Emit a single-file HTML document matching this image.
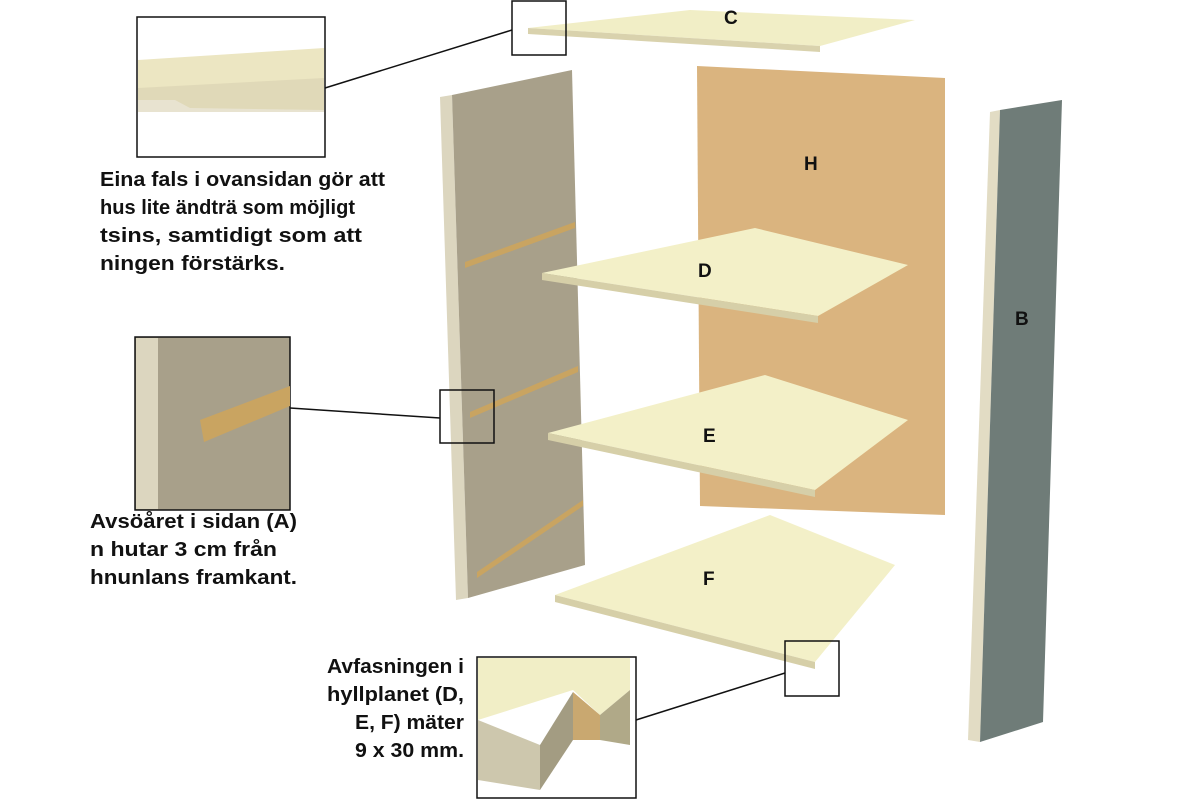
<!DOCTYPE html>
<html><head><meta charset="utf-8"><style>
body{margin:0;background:#fff;width:1200px;height:800px;overflow:hidden}
svg text{font-family:"Liberation Sans",sans-serif;font-weight:bold}
</style></head><body>
<svg width="1200" height="800" viewBox="0 0 1200 800" xmlns="http://www.w3.org/2000/svg">
<polygon points="697,66 945,78 945,515 700,506" fill="#dab47f"/>
<polygon points="440,97 452,95 468,598 456,600" fill="#dcd6bf"/>
<polygon points="452,95 572,70 585,565 468,598" fill="#a8a08a"/>
<polygon points="465,262 575,222 575,228 465,268" fill="#c9a461"/>
<polygon points="470,412 578,366 578,372 470,418" fill="#c9a461"/>
<polygon points="477,572 583,500 583,506 477,578" fill="#c9a461"/>
<polygon points="990,112 1000,110 980,742 968,740" fill="#e2dcc4"/>
<polygon points="1000,110 1062,100 1043,722 980,742" fill="#6f7c78"/>
<polygon points="528,28 690,10 915,20 820,46" fill="#f1eec6"/>
<polygon points="528,28 820,46 820,52 528,34" fill="#d9d2ad"/>
<polygon points="542,273 755,228 908,265 818,316" fill="#f3f0c8"/>
<polygon points="542,273 818,316 818,323 542,280" fill="#d6cfa8"/>
<polygon points="548,433 765,375 908,420 815,490" fill="#f3f0c8"/>
<polygon points="548,433 815,490 815,497 548,440" fill="#d6cfa8"/>
<polygon points="555,595 770,515 895,565 815,662" fill="#f3f0c8"/>
<polygon points="555,595 815,662 815,669 555,602" fill="#d6cfa8"/>
<g font-size="19" fill="#111">
<text x="724" y="24">C</text><text x="804" y="170">H</text><text x="698" y="277">D</text>
<text x="703" y="442">E</text><text x="703" y="585">F</text><text x="1015" y="325">B</text>
</g>
<rect x="137" y="17" width="188" height="140" fill="#fff" stroke="#111" stroke-width="1.5"/>
<polygon points="138,60 324,48 324,110 190,108 175,100 138,100" fill="#ece6c2"/>
<polygon points="138,88 324,78 324,112 138,112" fill="#d8d0b0" opacity=".6"/>
<line x1="325" y1="88" x2="512" y2="30" stroke="#111" stroke-width="1.5"/>
<rect x="512" y="1" width="54" height="54" fill="none" stroke="#111" stroke-width="1.5"/>
<rect x="135" y="337" width="155" height="173" fill="#a8a08a" stroke="#111" stroke-width="1.5"/>
<rect x="136" y="338" width="22" height="171" fill="#dcd6bf"/>
<polygon points="200,420 290,386 290,406 204,442" fill="#c9a461"/>
<line x1="290" y1="408" x2="440" y2="418" stroke="#111" stroke-width="1.5"/>
<rect x="440" y="390" width="54" height="53" fill="none" stroke="#111" stroke-width="1.5"/>
<rect x="477" y="657" width="159" height="141" fill="#fff" stroke="#111" stroke-width="1.5"/>
<polygon points="478,658 630,658 630,690 600,715 573,690 478,720" fill="#f1eec6"/>
<polygon points="478,720 540,745 540,790 478,780" fill="#cdc7ad"/>
<polygon points="540,745 573,692 573,740 540,790" fill="#a39c82"/>
<polygon points="573,692 600,715 600,740 573,740" fill="#c9a870"/>
<polygon points="600,715 630,690 630,745 600,740" fill="#b0a988"/>
<line x1="636" y1="720" x2="785" y2="673" stroke="#111" stroke-width="1.5"/>
<rect x="785" y="641" width="54" height="55" fill="none" stroke="#111" stroke-width="1.5"/>
<g font-size="20" fill="#111">
<text x="100" y="186" textLength="285" lengthAdjust="spacingAndGlyphs">Eina fals i ovansidan gör att</text>
<text x="100" y="214" textLength="255" lengthAdjust="spacingAndGlyphs">hus lite ändträ som möjligt</text>
<text x="100" y="242" textLength="262" lengthAdjust="spacingAndGlyphs">tsins, samtidigt som att</text>
<text x="100" y="270" textLength="185" lengthAdjust="spacingAndGlyphs">ningen förstärks.</text>
<text x="90" y="528" textLength="207" lengthAdjust="spacingAndGlyphs">Avsöåret i sidan (A)</text>
<text x="90" y="556" textLength="187" lengthAdjust="spacingAndGlyphs">n hutar 3 cm från</text>
<text x="90" y="584" textLength="207" lengthAdjust="spacingAndGlyphs">hnunlans framkant.</text>
<text x="327" y="673" textLength="137" lengthAdjust="spacingAndGlyphs">Avfasningen i</text>
<text x="327" y="701" textLength="137" lengthAdjust="spacingAndGlyphs">hyllplanet (D,</text>
<text x="355" y="729" textLength="109" lengthAdjust="spacingAndGlyphs">E, F) mäter</text>
<text x="355" y="757" textLength="109" lengthAdjust="spacingAndGlyphs">9 x 30 mm.</text>
</g>
</svg>
</body></html>
